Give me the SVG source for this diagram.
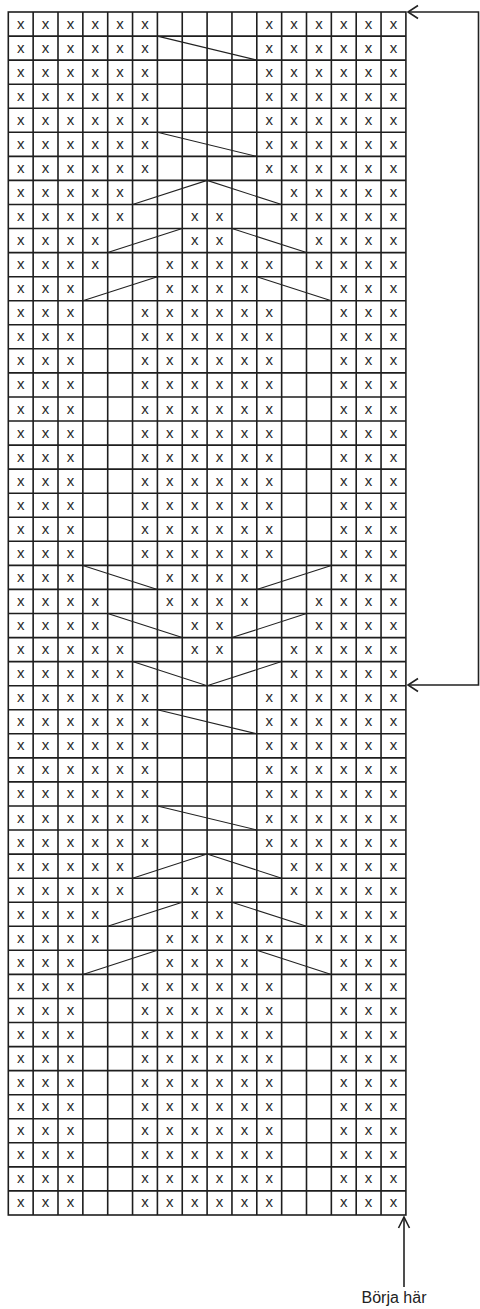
<svg xmlns="http://www.w3.org/2000/svg" width="480" height="1309" viewBox="0 0 480 1309">
<style>
.g{fill:none;stroke:#1e1e1e;stroke-width:1.6}
.d{fill:none;stroke:#222;stroke-width:1.1}
.a{fill:none;stroke:#222;stroke-width:1.6}
.x text{font-family:"Liberation Sans",Arial,sans-serif;font-size:15px;fill:#2a2a2a;text-anchor:middle}
.lbl{font-family:"Liberation Sans",Arial,sans-serif;font-size:16px;fill:#222;text-anchor:middle}
</style>
<g id="grid" class="g">
<rect x="8.3" y="12" width="397.6" height="1203"/>
<path d="M33.15,12V1215M58,12V1215M82.85,12V1215M107.7,12V1215M132.55,12V1215M157.4,12V1215M182.25,12V1215M207.1,12V1215M231.95,12V1215M256.8,12V1215M281.65,12V1215M306.5,12V1215M331.35,12V1215M356.2,12V1215M381.05,12V1215"/>
<path d="M8.3,36.1H405.9M8.3,60.1H405.9M8.3,84.2H405.9M8.3,108.2H405.9M8.3,132.3H405.9M8.3,156.4H405.9M8.3,180.4H405.9M8.3,204.5H405.9M8.3,228.5H405.9M8.3,252.6H405.9M8.3,276.7H405.9M8.3,300.7H405.9M8.3,324.8H405.9M8.3,348.8H405.9M8.3,372.9H405.9M8.3,397H405.9M8.3,421H405.9M8.3,445.1H405.9M8.3,469.1H405.9M8.3,493.2H405.9M8.3,517.3H405.9M8.3,541.3H405.9M8.3,565.4H405.9M8.3,589.4H405.9M8.3,613.5H405.9M8.3,637.6H405.9M8.3,661.6H405.9M8.3,685.7H405.9M8.3,709.7H405.9M8.3,733.8H405.9M8.3,757.9H405.9M8.3,781.9H405.9M8.3,806H405.9M8.3,830H405.9M8.3,854.1H405.9M8.3,878.2H405.9M8.3,902.2H405.9M8.3,926.3H405.9M8.3,950.3H405.9M8.3,974.4H405.9M8.3,998.5H405.9M8.3,1022.5H405.9M8.3,1046.6H405.9M8.3,1070.6H405.9M8.3,1094.7H405.9M8.3,1118.8H405.9M8.3,1142.8H405.9M8.3,1166.9H405.9M8.3,1190.9H405.9"/>
</g>
<g id="cables" class="d">
<path d="M157.4,36.1L256.8,60.1"/>
<path d="M157.4,132.3L256.8,156.4"/>
<path d="M132.55,204.5L207.1,180.4L281.65,204.5"/>
<path d="M107.7,252.6L182.25,228.5M231.95,228.5L306.5,252.6"/>
<path d="M82.85,300.7L157.4,276.7M256.8,276.7L331.35,300.7"/>
<path d="M82.85,565.4L157.4,589.4M256.8,589.4L331.35,565.4"/>
<path d="M107.7,613.5L182.25,637.6M231.95,637.6L306.5,613.5"/>
<path d="M132.55,661.6L207.1,685.7L281.65,661.6"/>
<path d="M157.4,709.7L256.8,733.8"/>
<path d="M157.4,806L256.8,830"/>
<path d="M132.55,878.2L207.1,854.1L281.65,878.2"/>
<path d="M107.7,926.3L182.25,902.2M231.95,902.2L306.5,926.3"/>
<path d="M82.85,974.4L157.4,950.3M256.8,950.3L331.35,974.4"/>
</g>
<g id="stitches" class="x">
<g transform="translate(0,28.5)"><text x="20.7">x</text><text x="45.6">x</text><text x="70.4">x</text><text x="95.3">x</text><text x="120.1">x</text><text x="145">x</text><text x="269.2">x</text><text x="294.1">x</text><text x="318.9">x</text><text x="343.8">x</text><text x="368.6">x</text><text x="393.5">x</text></g>
<g transform="translate(0,52.6)"><text x="20.7">x</text><text x="45.6">x</text><text x="70.4">x</text><text x="95.3">x</text><text x="120.1">x</text><text x="145">x</text><text x="269.2">x</text><text x="294.1">x</text><text x="318.9">x</text><text x="343.8">x</text><text x="368.6">x</text><text x="393.5">x</text></g>
<g transform="translate(0,76.6)"><text x="20.7">x</text><text x="45.6">x</text><text x="70.4">x</text><text x="95.3">x</text><text x="120.1">x</text><text x="145">x</text><text x="269.2">x</text><text x="294.1">x</text><text x="318.9">x</text><text x="343.8">x</text><text x="368.6">x</text><text x="393.5">x</text></g>
<g transform="translate(0,100.7)"><text x="20.7">x</text><text x="45.6">x</text><text x="70.4">x</text><text x="95.3">x</text><text x="120.1">x</text><text x="145">x</text><text x="269.2">x</text><text x="294.1">x</text><text x="318.9">x</text><text x="343.8">x</text><text x="368.6">x</text><text x="393.5">x</text></g>
<g transform="translate(0,124.7)"><text x="20.7">x</text><text x="45.6">x</text><text x="70.4">x</text><text x="95.3">x</text><text x="120.1">x</text><text x="145">x</text><text x="269.2">x</text><text x="294.1">x</text><text x="318.9">x</text><text x="343.8">x</text><text x="368.6">x</text><text x="393.5">x</text></g>
<g transform="translate(0,148.8)"><text x="20.7">x</text><text x="45.6">x</text><text x="70.4">x</text><text x="95.3">x</text><text x="120.1">x</text><text x="145">x</text><text x="269.2">x</text><text x="294.1">x</text><text x="318.9">x</text><text x="343.8">x</text><text x="368.6">x</text><text x="393.5">x</text></g>
<g transform="translate(0,172.9)"><text x="20.7">x</text><text x="45.6">x</text><text x="70.4">x</text><text x="95.3">x</text><text x="120.1">x</text><text x="145">x</text><text x="269.2">x</text><text x="294.1">x</text><text x="318.9">x</text><text x="343.8">x</text><text x="368.6">x</text><text x="393.5">x</text></g>
<g transform="translate(0,196.9)"><text x="20.7">x</text><text x="45.6">x</text><text x="70.4">x</text><text x="95.3">x</text><text x="120.1">x</text><text x="294.1">x</text><text x="318.9">x</text><text x="343.8">x</text><text x="368.6">x</text><text x="393.5">x</text></g>
<g transform="translate(0,221)"><text x="20.7">x</text><text x="45.6">x</text><text x="70.4">x</text><text x="95.3">x</text><text x="120.1">x</text><text x="194.7">x</text><text x="219.5">x</text><text x="294.1">x</text><text x="318.9">x</text><text x="343.8">x</text><text x="368.6">x</text><text x="393.5">x</text></g>
<g transform="translate(0,245)"><text x="20.7">x</text><text x="45.6">x</text><text x="70.4">x</text><text x="95.3">x</text><text x="194.7">x</text><text x="219.5">x</text><text x="318.9">x</text><text x="343.8">x</text><text x="368.6">x</text><text x="393.5">x</text></g>
<g transform="translate(0,269.1)"><text x="20.7">x</text><text x="45.6">x</text><text x="70.4">x</text><text x="95.3">x</text><text x="169.8">x</text><text x="194.7">x</text><text x="219.5">x</text><text x="244.4">x</text><text x="269.2">x</text><text x="318.9">x</text><text x="343.8">x</text><text x="368.6">x</text><text x="393.5">x</text></g>
<g transform="translate(0,293.2)"><text x="20.7">x</text><text x="45.6">x</text><text x="70.4">x</text><text x="169.8">x</text><text x="194.7">x</text><text x="219.5">x</text><text x="244.4">x</text><text x="343.8">x</text><text x="368.6">x</text><text x="393.5">x</text></g>
<g transform="translate(0,317.2)"><text x="20.7">x</text><text x="45.6">x</text><text x="70.4">x</text><text x="145">x</text><text x="169.8">x</text><text x="194.7">x</text><text x="219.5">x</text><text x="244.4">x</text><text x="269.2">x</text><text x="343.8">x</text><text x="368.6">x</text><text x="393.5">x</text></g>
<g transform="translate(0,341.3)"><text x="20.7">x</text><text x="45.6">x</text><text x="70.4">x</text><text x="145">x</text><text x="169.8">x</text><text x="194.7">x</text><text x="219.5">x</text><text x="244.4">x</text><text x="269.2">x</text><text x="343.8">x</text><text x="368.6">x</text><text x="393.5">x</text></g>
<g transform="translate(0,365.3)"><text x="20.7">x</text><text x="45.6">x</text><text x="70.4">x</text><text x="145">x</text><text x="169.8">x</text><text x="194.7">x</text><text x="219.5">x</text><text x="244.4">x</text><text x="269.2">x</text><text x="343.8">x</text><text x="368.6">x</text><text x="393.5">x</text></g>
<g transform="translate(0,389.4)"><text x="20.7">x</text><text x="45.6">x</text><text x="70.4">x</text><text x="145">x</text><text x="169.8">x</text><text x="194.7">x</text><text x="219.5">x</text><text x="244.4">x</text><text x="269.2">x</text><text x="343.8">x</text><text x="368.6">x</text><text x="393.5">x</text></g>
<g transform="translate(0,413.5)"><text x="20.7">x</text><text x="45.6">x</text><text x="70.4">x</text><text x="145">x</text><text x="169.8">x</text><text x="194.7">x</text><text x="219.5">x</text><text x="244.4">x</text><text x="269.2">x</text><text x="343.8">x</text><text x="368.6">x</text><text x="393.5">x</text></g>
<g transform="translate(0,437.5)"><text x="20.7">x</text><text x="45.6">x</text><text x="70.4">x</text><text x="145">x</text><text x="169.8">x</text><text x="194.7">x</text><text x="219.5">x</text><text x="244.4">x</text><text x="269.2">x</text><text x="343.8">x</text><text x="368.6">x</text><text x="393.5">x</text></g>
<g transform="translate(0,461.6)"><text x="20.7">x</text><text x="45.6">x</text><text x="70.4">x</text><text x="145">x</text><text x="169.8">x</text><text x="194.7">x</text><text x="219.5">x</text><text x="244.4">x</text><text x="269.2">x</text><text x="343.8">x</text><text x="368.6">x</text><text x="393.5">x</text></g>
<g transform="translate(0,485.6)"><text x="20.7">x</text><text x="45.6">x</text><text x="70.4">x</text><text x="145">x</text><text x="169.8">x</text><text x="194.7">x</text><text x="219.5">x</text><text x="244.4">x</text><text x="269.2">x</text><text x="343.8">x</text><text x="368.6">x</text><text x="393.5">x</text></g>
<g transform="translate(0,509.7)"><text x="20.7">x</text><text x="45.6">x</text><text x="70.4">x</text><text x="145">x</text><text x="169.8">x</text><text x="194.7">x</text><text x="219.5">x</text><text x="244.4">x</text><text x="269.2">x</text><text x="343.8">x</text><text x="368.6">x</text><text x="393.5">x</text></g>
<g transform="translate(0,533.8)"><text x="20.7">x</text><text x="45.6">x</text><text x="70.4">x</text><text x="145">x</text><text x="169.8">x</text><text x="194.7">x</text><text x="219.5">x</text><text x="244.4">x</text><text x="269.2">x</text><text x="343.8">x</text><text x="368.6">x</text><text x="393.5">x</text></g>
<g transform="translate(0,557.8)"><text x="20.7">x</text><text x="45.6">x</text><text x="70.4">x</text><text x="145">x</text><text x="169.8">x</text><text x="194.7">x</text><text x="219.5">x</text><text x="244.4">x</text><text x="269.2">x</text><text x="343.8">x</text><text x="368.6">x</text><text x="393.5">x</text></g>
<g transform="translate(0,581.9)"><text x="20.7">x</text><text x="45.6">x</text><text x="70.4">x</text><text x="169.8">x</text><text x="194.7">x</text><text x="219.5">x</text><text x="244.4">x</text><text x="343.8">x</text><text x="368.6">x</text><text x="393.5">x</text></g>
<g transform="translate(0,605.9)"><text x="20.7">x</text><text x="45.6">x</text><text x="70.4">x</text><text x="95.3">x</text><text x="169.8">x</text><text x="194.7">x</text><text x="219.5">x</text><text x="244.4">x</text><text x="318.9">x</text><text x="343.8">x</text><text x="368.6">x</text><text x="393.5">x</text></g>
<g transform="translate(0,630)"><text x="20.7">x</text><text x="45.6">x</text><text x="70.4">x</text><text x="95.3">x</text><text x="194.7">x</text><text x="219.5">x</text><text x="318.9">x</text><text x="343.8">x</text><text x="368.6">x</text><text x="393.5">x</text></g>
<g transform="translate(0,654.1)"><text x="20.7">x</text><text x="45.6">x</text><text x="70.4">x</text><text x="95.3">x</text><text x="120.1">x</text><text x="194.7">x</text><text x="219.5">x</text><text x="294.1">x</text><text x="318.9">x</text><text x="343.8">x</text><text x="368.6">x</text><text x="393.5">x</text></g>
<g transform="translate(0,678.1)"><text x="20.7">x</text><text x="45.6">x</text><text x="70.4">x</text><text x="95.3">x</text><text x="120.1">x</text><text x="294.1">x</text><text x="318.9">x</text><text x="343.8">x</text><text x="368.6">x</text><text x="393.5">x</text></g>
<g transform="translate(0,702.2)"><text x="20.7">x</text><text x="45.6">x</text><text x="70.4">x</text><text x="95.3">x</text><text x="120.1">x</text><text x="145">x</text><text x="269.2">x</text><text x="294.1">x</text><text x="318.9">x</text><text x="343.8">x</text><text x="368.6">x</text><text x="393.5">x</text></g>
<g transform="translate(0,726.2)"><text x="20.7">x</text><text x="45.6">x</text><text x="70.4">x</text><text x="95.3">x</text><text x="120.1">x</text><text x="145">x</text><text x="269.2">x</text><text x="294.1">x</text><text x="318.9">x</text><text x="343.8">x</text><text x="368.6">x</text><text x="393.5">x</text></g>
<g transform="translate(0,750.3)"><text x="20.7">x</text><text x="45.6">x</text><text x="70.4">x</text><text x="95.3">x</text><text x="120.1">x</text><text x="145">x</text><text x="269.2">x</text><text x="294.1">x</text><text x="318.9">x</text><text x="343.8">x</text><text x="368.6">x</text><text x="393.5">x</text></g>
<g transform="translate(0,774.4)"><text x="20.7">x</text><text x="45.6">x</text><text x="70.4">x</text><text x="95.3">x</text><text x="120.1">x</text><text x="145">x</text><text x="269.2">x</text><text x="294.1">x</text><text x="318.9">x</text><text x="343.8">x</text><text x="368.6">x</text><text x="393.5">x</text></g>
<g transform="translate(0,798.4)"><text x="20.7">x</text><text x="45.6">x</text><text x="70.4">x</text><text x="95.3">x</text><text x="120.1">x</text><text x="145">x</text><text x="269.2">x</text><text x="294.1">x</text><text x="318.9">x</text><text x="343.8">x</text><text x="368.6">x</text><text x="393.5">x</text></g>
<g transform="translate(0,822.5)"><text x="20.7">x</text><text x="45.6">x</text><text x="70.4">x</text><text x="95.3">x</text><text x="120.1">x</text><text x="145">x</text><text x="269.2">x</text><text x="294.1">x</text><text x="318.9">x</text><text x="343.8">x</text><text x="368.6">x</text><text x="393.5">x</text></g>
<g transform="translate(0,846.5)"><text x="20.7">x</text><text x="45.6">x</text><text x="70.4">x</text><text x="95.3">x</text><text x="120.1">x</text><text x="145">x</text><text x="269.2">x</text><text x="294.1">x</text><text x="318.9">x</text><text x="343.8">x</text><text x="368.6">x</text><text x="393.5">x</text></g>
<g transform="translate(0,870.6)"><text x="20.7">x</text><text x="45.6">x</text><text x="70.4">x</text><text x="95.3">x</text><text x="120.1">x</text><text x="294.1">x</text><text x="318.9">x</text><text x="343.8">x</text><text x="368.6">x</text><text x="393.5">x</text></g>
<g transform="translate(0,894.7)"><text x="20.7">x</text><text x="45.6">x</text><text x="70.4">x</text><text x="95.3">x</text><text x="120.1">x</text><text x="194.7">x</text><text x="219.5">x</text><text x="294.1">x</text><text x="318.9">x</text><text x="343.8">x</text><text x="368.6">x</text><text x="393.5">x</text></g>
<g transform="translate(0,918.7)"><text x="20.7">x</text><text x="45.6">x</text><text x="70.4">x</text><text x="95.3">x</text><text x="194.7">x</text><text x="219.5">x</text><text x="318.9">x</text><text x="343.8">x</text><text x="368.6">x</text><text x="393.5">x</text></g>
<g transform="translate(0,942.8)"><text x="20.7">x</text><text x="45.6">x</text><text x="70.4">x</text><text x="95.3">x</text><text x="169.8">x</text><text x="194.7">x</text><text x="219.5">x</text><text x="244.4">x</text><text x="269.2">x</text><text x="318.9">x</text><text x="343.8">x</text><text x="368.6">x</text><text x="393.5">x</text></g>
<g transform="translate(0,966.8)"><text x="20.7">x</text><text x="45.6">x</text><text x="70.4">x</text><text x="169.8">x</text><text x="194.7">x</text><text x="219.5">x</text><text x="244.4">x</text><text x="343.8">x</text><text x="368.6">x</text><text x="393.5">x</text></g>
<g transform="translate(0,990.9)"><text x="20.7">x</text><text x="45.6">x</text><text x="70.4">x</text><text x="145">x</text><text x="169.8">x</text><text x="194.7">x</text><text x="219.5">x</text><text x="244.4">x</text><text x="269.2">x</text><text x="343.8">x</text><text x="368.6">x</text><text x="393.5">x</text></g>
<g transform="translate(0,1015)"><text x="20.7">x</text><text x="45.6">x</text><text x="70.4">x</text><text x="145">x</text><text x="169.8">x</text><text x="194.7">x</text><text x="219.5">x</text><text x="244.4">x</text><text x="269.2">x</text><text x="343.8">x</text><text x="368.6">x</text><text x="393.5">x</text></g>
<g transform="translate(0,1039)"><text x="20.7">x</text><text x="45.6">x</text><text x="70.4">x</text><text x="145">x</text><text x="169.8">x</text><text x="194.7">x</text><text x="219.5">x</text><text x="244.4">x</text><text x="269.2">x</text><text x="343.8">x</text><text x="368.6">x</text><text x="393.5">x</text></g>
<g transform="translate(0,1063.1)"><text x="20.7">x</text><text x="45.6">x</text><text x="70.4">x</text><text x="145">x</text><text x="169.8">x</text><text x="194.7">x</text><text x="219.5">x</text><text x="244.4">x</text><text x="269.2">x</text><text x="343.8">x</text><text x="368.6">x</text><text x="393.5">x</text></g>
<g transform="translate(0,1087.1)"><text x="20.7">x</text><text x="45.6">x</text><text x="70.4">x</text><text x="145">x</text><text x="169.8">x</text><text x="194.7">x</text><text x="219.5">x</text><text x="244.4">x</text><text x="269.2">x</text><text x="343.8">x</text><text x="368.6">x</text><text x="393.5">x</text></g>
<g transform="translate(0,1111.2)"><text x="20.7">x</text><text x="45.6">x</text><text x="70.4">x</text><text x="145">x</text><text x="169.8">x</text><text x="194.7">x</text><text x="219.5">x</text><text x="244.4">x</text><text x="269.2">x</text><text x="343.8">x</text><text x="368.6">x</text><text x="393.5">x</text></g>
<g transform="translate(0,1135.3)"><text x="20.7">x</text><text x="45.6">x</text><text x="70.4">x</text><text x="145">x</text><text x="169.8">x</text><text x="194.7">x</text><text x="219.5">x</text><text x="244.4">x</text><text x="269.2">x</text><text x="343.8">x</text><text x="368.6">x</text><text x="393.5">x</text></g>
<g transform="translate(0,1159.3)"><text x="20.7">x</text><text x="45.6">x</text><text x="70.4">x</text><text x="145">x</text><text x="169.8">x</text><text x="194.7">x</text><text x="219.5">x</text><text x="244.4">x</text><text x="269.2">x</text><text x="343.8">x</text><text x="368.6">x</text><text x="393.5">x</text></g>
<g transform="translate(0,1183.4)"><text x="20.7">x</text><text x="45.6">x</text><text x="70.4">x</text><text x="145">x</text><text x="169.8">x</text><text x="194.7">x</text><text x="219.5">x</text><text x="244.4">x</text><text x="269.2">x</text><text x="343.8">x</text><text x="368.6">x</text><text x="393.5">x</text></g>
<g transform="translate(0,1207.4)"><text x="20.7">x</text><text x="45.6">x</text><text x="70.4">x</text><text x="145">x</text><text x="169.8">x</text><text x="194.7">x</text><text x="219.5">x</text><text x="244.4">x</text><text x="269.2">x</text><text x="343.8">x</text><text x="368.6">x</text><text x="393.5">x</text></g>
</g>
<g id="arrows" class="a">
<path d="M408,12H478.5V685H408"/>
<path d="M418,5.5L408,12L418,18.5"/>
<path d="M418,678.5L408,685L418,691.5"/>
<path d="M404,1287V1217"/>
<path d="M398.5,1228L404,1217L409.5,1228"/>
</g>
<g id="start-label">
<text class="lbl" x="394" y="1303">Börja här</text>
</g>
</svg>
